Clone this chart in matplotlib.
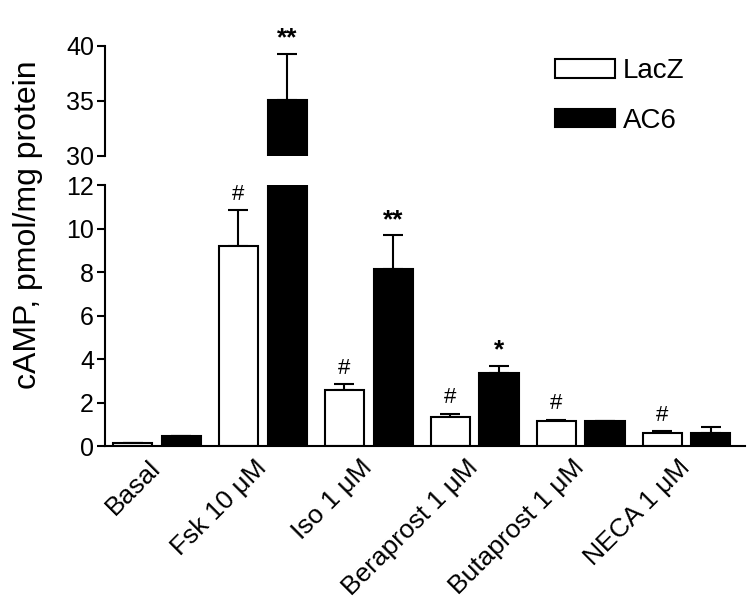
import numpy as np
import matplotlib
matplotlib.use('Agg')
import matplotlib.pyplot as plt
from matplotlib.patches import Patch

plt.rcParams['font.family'] = ['Liberation Sans', 'DejaVu Sans']

# Data
categories = ['Basal', 'Fsk 10 \u03bcM', 'Iso 1 \u03bcM', 'Beraprost 1 \u03bcM',
              'Butaprost 1 \u03bcM', 'NECA 1 \u03bcM']
lacz_mean = [0.15, 9.2, 2.57, 1.35, 1.13, 0.6]
lacz_sem = [0.0, 1.65, 0.28, 0.13, 0.09, 0.08]
ac6_mean = [0.45, 35.1, 8.14, 3.36, 1.16, 0.6]
ac6_sem = [0.0, 4.2, 1.56, 0.32, 0.0, 0.27]
lacz_marks = ['', '#', '#', '#', '#', '#']
ac6_marks = ['', '**', '**', '*', '', '']

x = np.arange(len(categories))
width = 0.37
offset = 0.23

fig = plt.figure(figsize=(7.5, 6.11), dpi=100)
ax_lo = fig.add_axes([0.14, 0.27, 0.853, 0.427])
ax_hi = fig.add_axes([0.14, 0.745, 0.853, 0.18])


def draw_bars(ax):
    ax.bar(x - offset, lacz_mean, width, color='white', edgecolor='black',
           linewidth=1.5, zorder=2)
    ax.bar(x + offset, ac6_mean, width, color='black', edgecolor='black',
           linewidth=1.5, zorder=2)
    ax.errorbar(x - offset, lacz_mean, yerr=[np.zeros(len(x)), lacz_sem],
                fmt='none', ecolor='black', elinewidth=1.5, capsize=7.5,
                capthick=1.5, zorder=1)
    ax.errorbar(x + offset, ac6_mean, yerr=[np.zeros(len(x)), ac6_sem],
                fmt='none', ecolor='black', elinewidth=1.5, capsize=7.5,
                capthick=1.5, zorder=1)


draw_bars(ax_lo)
draw_bars(ax_hi)

ax_lo.set_ylim(0, 12)
ax_hi.set_ylim(30, 40)
for ax in (ax_lo, ax_hi):
    ax.set_xlim(-0.49, 5.55)
    ax.spines['top'].set_visible(False)
    ax.spines['right'].set_visible(False)
    ax.spines['left'].set_linewidth(1.5)
    ax.spines['bottom'].set_linewidth(1.5)
    ax.tick_params(axis='y', labelsize=18, width=1.5, length=6, pad=2)
    ax.tick_params(axis='x', length=0)

ax_lo.set_yticks([0, 2, 4, 6, 8, 10, 12])
ax_hi.set_yticks([30, 35, 40])
ax_hi.spines['bottom'].set_visible(False)
ax_hi.set_xticks([])

ax_lo.set_xticks(x)
ax_lo.set_xticklabels(categories, rotation=45, ha='right', va='center',
                      rotation_mode='anchor', fontsize=19)
ax_lo.tick_params(axis='x', pad=13)

fig.text(0.037, 0.633, 'cAMP, pmol/mg protein', rotation=90, fontsize=23,
         ha='center', va='center')

# significance marks
for i in range(len(x)):
    if lacz_marks[i]:
        top = lacz_mean[i] + lacz_sem[i]
        ax_lo.text(x[i] - offset, top + 0.25, lacz_marks[i], ha='center',
                   va='bottom', fontsize=16)
    if ac6_marks[i]:
        top = ac6_mean[i] + ac6_sem[i]
        ax = ax_hi if top > 12 else ax_lo
        pad = 0.3 if top > 12 else 0.15
        ax.text(x[i] + offset, top + pad, ac6_marks[i], ha='center',
                va='bottom', fontsize=19, fontweight='bold', clip_on=False)

handles = [Patch(facecolor='white', edgecolor='black', linewidth=1.5),
           Patch(facecolor='black', edgecolor='black', linewidth=1.5)]
fig.legend(handles, ['LacZ', 'AC6'], loc='upper left',
           bbox_to_anchor=(0.74, 0.905), frameon=False, fontsize=20,
           handlelength=2.15, handleheight=0.65, labelspacing=0.85,
           handletextpad=0.3, borderpad=0, borderaxespad=0)

fig.savefig('out.png', dpi=100)
